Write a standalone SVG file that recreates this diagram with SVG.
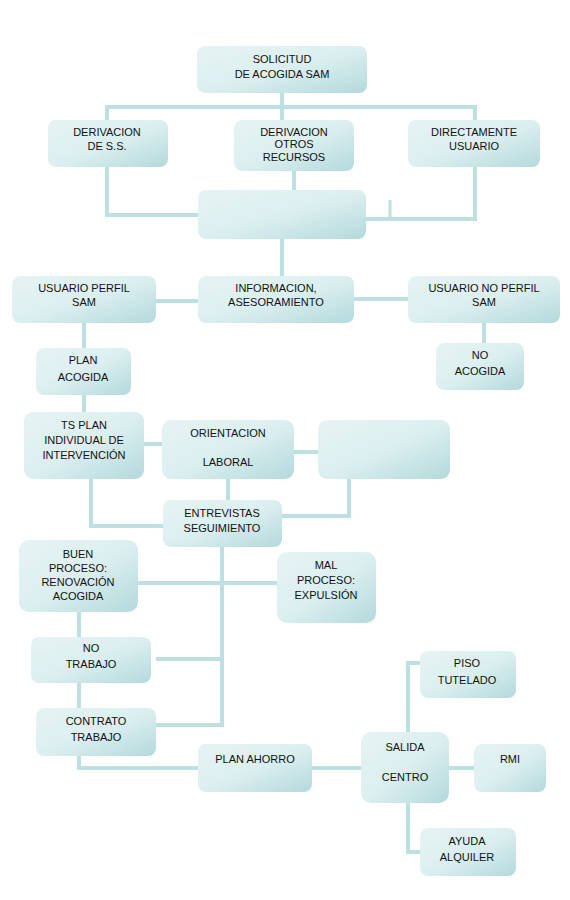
<svg xmlns="http://www.w3.org/2000/svg" width="570" height="900" viewBox="0 0 570 900">
<defs>
<linearGradient id="g" x1="0" y1="0" x2="1" y2="1">
<stop offset="0" stop-color="#e6f3f4"/>
<stop offset="0.5" stop-color="#dcefF0"/>
<stop offset="1" stop-color="#b3d9dc"/>
</linearGradient>
<style>
.b{fill:url(#g);}
.c{fill:none;stroke:#bde0e2;stroke-width:4;}
.s{fill:none;stroke:#bde0e2;stroke-width:3;}
text{font-family:"Liberation Sans",Arial,sans-serif;font-size:11px;fill:#111;text-anchor:middle;}
</style>
</defs>
<rect width="570" height="900" fill="#fff"/>
<g id="connectors">
<path class="c" d="M282,93V120M107,120V107H475V120"/>
<path class="c" d="M107,167V215H198"/>
<path class="c" d="M294,171V190"/>
<path class="c" d="M475,167V219H366"/>
<path class="s" d="M390,200V219"/>
<path class="c" d="M282,239V276"/>
<path class="c" d="M156,301H198"/>
<path class="c" d="M354,299H408"/>
<path class="c" d="M484,323V343"/>
<path class="c" d="M84,323V348M84,395V412"/>
<path class="c" d="M144,444H162"/>
<path class="c" d="M294,452H318"/>
<path class="c" d="M91,479V526H163"/>
<path class="c" d="M228,479V500"/>
<path class="c" d="M349,479V516H282"/>
<path class="c" d="M222,547V725H156"/>
<path class="c" d="M138,583H277"/>
<path class="c" d="M156,659H222"/>
<path class="c" d="M79,612V637M79,683V708M79,756V768H198"/>
<path class="c" d="M312,768H361"/>
<path class="c" d="M449,768H474"/>
<path class="c" d="M408,732V663H420"/>
<path class="c" d="M408,803V852H420"/>
</g>
<g id="solicitud"><rect class="b" x="197" y="46" width="170" height="47" rx="8"/><text x="282" y="63">SOLICITUD</text><text x="282" y="78">DE ACOGIDA SAM</text></g>
<g id="derivacion-ss"><rect class="b" x="48" y="120" width="120" height="47" rx="8"/><text x="107" y="136">DERIVACION</text><text x="107" y="150">DE S.S.</text></g>
<g id="derivacion-otros"><rect class="b" x="234" y="120" width="120" height="51" rx="8"/><text x="294" y="136">DERIVACION</text><text x="294" y="148">OTROS</text><text x="294" y="161">RECURSOS</text></g>
<g id="directamente"><rect class="b" x="408" y="120" width="132" height="47" rx="8"/><text x="474" y="136">DIRECTAMENTE</text><text x="474" y="150">USUARIO</text></g>
<g id="blank1"><rect class="b" x="198" y="190" width="168" height="49" rx="8"/></g>
<g id="usuario-perfil"><rect class="b" x="12" y="276" width="144" height="47" rx="8"/><text x="84" y="292">USUARIO PERFIL</text><text x="84" y="306">SAM</text></g>
<g id="informacion"><rect class="b" x="198" y="276" width="156" height="47" rx="8"/><text x="276" y="292">INFORMACION,</text><text x="276" y="306">ASESORAMIENTO</text></g>
<g id="usuario-no-perfil"><rect class="b" x="408" y="276" width="152" height="47" rx="8"/><text x="484" y="292">USUARIO NO PERFIL</text><text x="484" y="306">SAM</text></g>
<g id="no-acogida"><rect class="b" x="436" y="343" width="88" height="47" rx="8"/><text x="480" y="359">NO</text><text x="480" y="375">ACOGIDA</text></g>
<g id="plan-acogida"><rect class="b" x="36" y="348" width="95" height="47" rx="8"/><text x="83" y="364">PLAN</text><text x="83" y="381">ACOGIDA</text></g>
<g id="ts-plan"><rect class="b" x="24" y="412" width="120" height="67" rx="9"/><text x="84" y="429">TS PLAN</text><text x="84" y="444">INDIVIDUAL DE</text><text x="84" y="459">INTERVENCIÓN</text></g>
<g id="orientacion"><rect class="b" x="162" y="420" width="132" height="59" rx="9"/><text x="228" y="437">ORIENTACION</text><text x="228" y="466">LABORAL</text></g>
<g id="blank2"><rect class="b" x="318" y="420" width="132" height="59" rx="9"/></g>
<g id="entrevistas"><rect class="b" x="163" y="500" width="119" height="47" rx="8"/><text x="222" y="517">ENTREVISTAS</text><text x="222" y="532">SEGUIMIENTO</text></g>
<g id="buen-proceso"><rect class="b" x="19" y="540" width="119" height="72" rx="10"/><text x="78" y="558">BUEN</text><text x="78" y="572">PROCESO:</text><text x="78" y="586">RENOVACIÓN</text><text x="78" y="600">ACOGIDA</text></g>
<g id="mal-proceso"><rect class="b" x="277" y="552" width="99" height="71" rx="10"/><text x="326" y="569">MAL</text><text x="326" y="584">PROCESO:</text><text x="326" y="599">EXPULSIÓN</text></g>
<g id="no-trabajo"><rect class="b" x="31" y="637" width="120" height="46" rx="8"/><text x="91" y="652">NO</text><text x="91" y="668">TRABAJO</text></g>
<g id="contrato-trabajo"><rect class="b" x="36" y="708" width="120" height="48" rx="8"/><text x="96" y="725">CONTRATO</text><text x="96" y="741">TRABAJO</text></g>
<g id="plan-ahorro"><rect class="b" x="198" y="744" width="114" height="48" rx="8"/><text x="255" y="763">PLAN AHORRO</text></g>
<g id="salida-centro"><rect class="b" x="361" y="732" width="88" height="71" rx="10"/><text x="405" y="751">SALIDA</text><text x="405" y="781">CENTRO</text></g>
<g id="piso-tutelado"><rect class="b" x="420" y="651" width="96" height="47" rx="8"/><text x="467" y="667">PISO</text><text x="467" y="684">TUTELADO</text></g>
<g id="rmi"><rect class="b" x="474" y="744" width="72" height="48" rx="8"/><text x="510" y="763">RMI</text></g>
<g id="ayuda-alquiler"><rect class="b" x="420" y="828" width="96" height="48" rx="8"/><text x="467" y="845">AYUDA</text><text x="467" y="861">ALQUILER</text></g>
</svg>
